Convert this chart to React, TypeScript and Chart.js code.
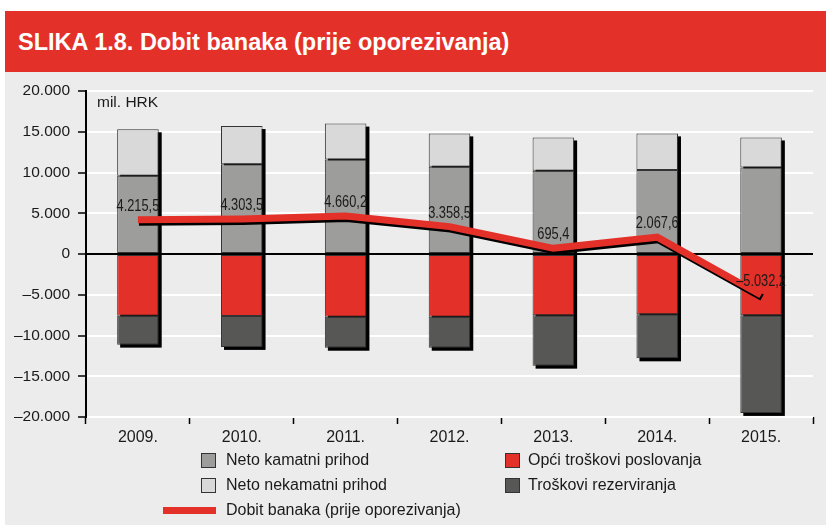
import React, { useEffect, useRef } from "react";
import { Chart, registerables } from "chart.js";

Chart.register(...registerables);

const categories = ["2009.", "2010.", "2011.", "2012.", "2013.", "2014.", "2015."];
const netoKamatni = [9600, 11000, 11600, 10700, 10200, 10300, 10600];
const netoNekamatni = [5700, 4700, 4400, 4100, 4100, 4500, 3700];
const opciTroskovi = [-7570, -7600, -7700, -7700, -7500, -7400, -7500];
const troskoviRezerviranja = [-3550, -3800, -3800, -3800, -6200, -5400, -12000];
const dobitBanaka = [4215.5, 4303.5, 4660.2, 3358.5, 695.4, 2067.6, -5032.2];

const seriesNames = [
  "Neto kamatni prihod",
  "Neto nekamatni prihod",
  "Opći troškovi poslovanja",
  "Troškovi rezerviranja",
  "Dobit banaka (prije oporezivanja)",
];

const C_KAM = "#9d9d9b";
const C_NEK = "#d9d9d9";
const C_RED = "#e3312a";
const C_REZ = "#575756";
const C_BG = "#ececec";
const FONT = '"Liberation Sans", Arial, Helvetica, sans-serif';

function fmt(v: number, dec: number): string {
  const neg = v < 0;
  const s = Math.abs(v).toFixed(dec);
  const [ip, dp] = s.split(".");
  const withSep = ip.replace(/\B(?=(\d{3})+(?!\d))/g, ".");
  return (neg ? "\u2013" : "") + withSep + (dp ? "," + dp : "");
}

const barShadowPlugin = {
  id: "barShadow",
  beforeDatasetsDraw(chart: any) {
    const ctx = chart.ctx;
    const n = chart.data.labels.length;
    ctx.save();
    ctx.fillStyle = "#000";
    for (let i = 0; i < n; i++) {
      let top = Infinity, bottom = -Infinity, x = 0, w = 0;
      chart.data.datasets.forEach((ds: any, di: number) => {
        const meta = chart.getDatasetMeta(di);
        if (meta.type !== "bar") return;
        const el: any = meta.data[i];
        if (!el) return;
        top = Math.min(top, el.y, el.base);
        bottom = Math.max(bottom, el.y, el.base);
        x = el.x;
        w = el.width;
      });
      if (isFinite(top)) {
        ctx.fillRect(x - w / 2 + 3, top + 3, w, bottom - top);
      }
    }
    ctx.restore();
  },
  beforeDatasetDraw(chart: any, args: any) {
    if (args.meta.type === "line") {
      const ctx = chart.ctx;
      ctx.save();
      ctx.shadowColor = "#000";
      ctx.shadowOffsetX = 1;
      ctx.shadowOffsetY = 2.5;
      ctx.shadowBlur = 0;
    }
  },
  afterDatasetDraw(chart: any, args: any) {
    if (args.meta.type === "line") {
      chart.ctx.restore();
    }
  },
  afterDatasetsDraw(chart: any) {
    const ctx = chart.ctx;
    const idx = chart.data.datasets.findIndex((d: any) => d.type === "line");
    const meta = chart.getDatasetMeta(idx);
    meta.data.forEach((pt: any, i: number) => {
      ctx.save();
      ctx.font = "16px " + FONT;
      ctx.fillStyle = "#1a1a1a";
      ctx.textAlign = "center";
      ctx.textBaseline = "alphabetic";
      ctx.translate(pt.x, pt.y - 9);
      ctx.scale(0.8, 1);
      ctx.fillText(fmt(dobitBanaka[i], 1), 0, 0);
      ctx.restore();
    });
  },
};

function ChartCanvas() {
  const ref = useRef<HTMLCanvasElement | null>(null);
  useEffect(() => {
    if (!ref.current) return;
    const chart = new Chart(ref.current, {
      type: "bar",
      data: {
        labels: categories,
        datasets: [
          {
            type: "line",
            label: seriesNames[4],
            data: dobitBanaka,
            borderColor: C_RED,
            backgroundColor: C_RED,
            borderWidth: 7,
            pointRadius: 0,
            tension: 0,
            borderJoinStyle: "miter",
            borderCapStyle: "butt",
            order: 0,
            stack: "line",
          } as any,
          {
            label: seriesNames[0],
            data: netoKamatni,
            backgroundColor: C_KAM,
            borderColor: "#333",
            borderWidth: 1,
            borderSkipped: false,
            order: 1,
            stack: "s",
          },
          {
            label: seriesNames[1],
            data: netoNekamatni,
            backgroundColor: C_NEK,
            borderColor: "#333",
            borderWidth: 1,
            borderSkipped: false,
            order: 1,
            stack: "s",
          },
          {
            label: seriesNames[2],
            data: opciTroskovi,
            backgroundColor: C_RED,
            borderColor: "#333",
            borderWidth: 1,
            borderSkipped: false,
            order: 1,
            stack: "s",
          },
          {
            label: seriesNames[3],
            data: troskoviRezerviranja,
            backgroundColor: C_REZ,
            borderColor: "#333",
            borderWidth: 1,
            borderSkipped: false,
            order: 1,
            stack: "s",
          },
        ],
      },
      options: {
        responsive: false,
        animation: false,
        devicePixelRatio: 1,
        layout: { padding: { left: 0, right: 13, top: 19, bottom: 0 } },
        datasets: { bar: { categoryPercentage: 1, barPercentage: 0.4 } },
        plugins: { legend: { display: false }, tooltip: { enabled: false } },
        scales: {
          x: {
            stacked: true,
            grid: {
              drawOnChartArea: false,
              drawTicks: true,
              tickLength: 7,
              tickColor: "#000",
              tickWidth: 1.5,
              offset: true,
            },
            border: { display: false },
            ticks: {
              font: { family: FONT, size: 16 },
              color: "#1a1a1a",
              padding: 4,
              maxRotation: 0,
              autoSkip: false,
            },
            afterFit: (s: any) => {
              s.height = 35;
            },
          },
          y: {
            stacked: true,
            min: -20000,
            max: 20000,
            ticks: {
              stepSize: 5000,
              callback: (v: any) => fmt(Number(v), 0),
              font: { family: FONT, size: 15.5 },
              color: "#1a1a1a",
              padding: 8,
            },
            grid: {
              color: (c: any) => (c.tick && c.tick.value === 0 ? "#000" : "#ffffff"),
              lineWidth: 2,
              drawTicks: true,
              tickLength: 8,
              tickColor: "#000",
              tickWidth: 1.5,
            },
            border: { display: true, color: "#000", width: 2 },
            afterFit: (s: any) => {
              s.width = 81;
            },
          },
        },
      } as any,
      plugins: [barShadowPlugin],
    });
    return () => chart.destroy();
  }, []);
  return (
    <canvas
      ref={ref}
      width={821}
      height={380}
      style={{ position: "absolute", left: 5, top: 72, width: 821, height: 380 }}
    />
  );
}

function LegendBox({ color, left, top }: { color: string; left: number; top: number }) {
  return (
    <div
      style={{
        position: "absolute",
        left,
        top,
        width: 13,
        height: 13,
        background: color,
        border: "1px solid #333",
      }}
    />
  );
}

function LegendText({ text, left, top }: { text: string; left: number; top: number }) {
  return (
    <div
      style={{
        position: "absolute",
        left,
        top,
        fontFamily: FONT,
        fontSize: 16,
        lineHeight: "16px",
        color: "#1a1a1a",
        whiteSpace: "nowrap",
      }}
    >
      {text}
    </div>
  );
}

export default function App() {
  return (
    <div
      style={{
        position: "absolute",
        left: 0,
        top: 0,
        width: 826,
        height: 525,
        background: "#fff",
        overflow: "hidden",
      }}
    >
      <div
        style={{
          position: "absolute",
          left: 5,
          top: 11,
          width: 821,
          height: 61,
          background: C_RED,
        }}
      >
        <div
          style={{
            position: "absolute",
            left: 13,
            top: 18,
            fontFamily: FONT,
            fontWeight: "bold",
            fontSize: 23.5,
            lineHeight: "26px",
            color: "#fff",
            whiteSpace: "nowrap",
          }}
        >
          SLIKA 1.8. Dobit banaka (prije oporezivanja)
        </div>
      </div>
      <div
        style={{
          position: "absolute",
          left: 5,
          top: 72,
          width: 821,
          height: 453,
          background: C_BG,
        }}
      />
      <ChartCanvas />
      <div
        style={{
          position: "absolute",
          left: 97,
          top: 94,
          fontFamily: FONT,
          fontSize: 15.5,
          lineHeight: "16px",
          color: "#1a1a1a",
        }}
      >
        mil. HRK
      </div>
      <LegendBox color={C_KAM} left={201} top={453} />
      <LegendText text={seriesNames[0]} left={226} top={452} />
      <LegendBox color={C_RED} left={505} top={453} />
      <LegendText text={seriesNames[2]} left={528} top={452} />
      <LegendBox color={C_NEK} left={201} top={478} />
      <LegendText text={seriesNames[1]} left={226} top={477} />
      <LegendBox color={C_REZ} left={505} top={478} />
      <LegendText text={seriesNames[3]} left={528} top={477} />
      <div
        style={{
          position: "absolute",
          left: 163,
          top: 507,
          width: 53,
          height: 7,
          background: C_RED,
        }}
      />
      <LegendText text={seriesNames[4]} left={226} top={502} />
    </div>
  );
}
